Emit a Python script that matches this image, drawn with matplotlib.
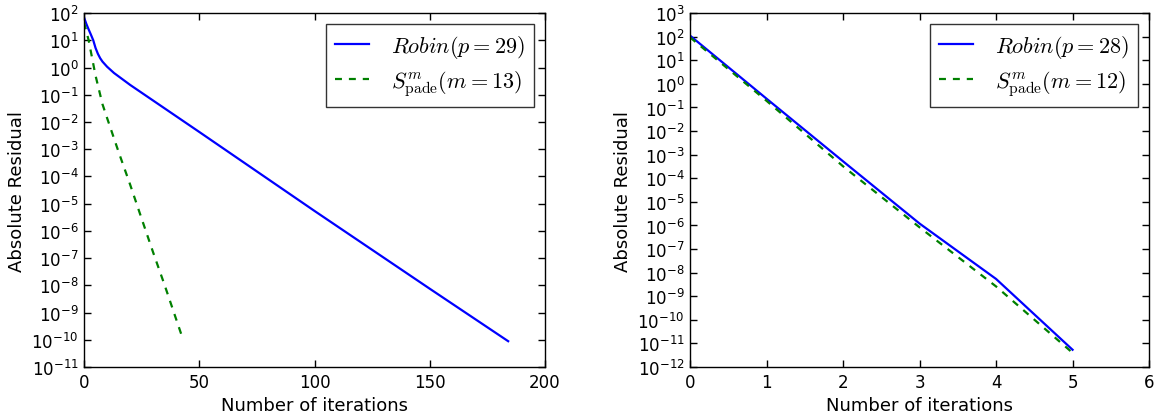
import numpy as np
import matplotlib
matplotlib.use("Agg")
import matplotlib.pyplot as plt

plt.rcParams['mathtext.fontset'] = 'cm'
plt.rcParams['axes.unicode_minus'] = False
plt.rcParams['lines.scale_dashes'] = False
plt.rcParams['xtick.direction'] = 'in'
plt.rcParams['ytick.direction'] = 'in'
plt.rcParams['xtick.top'] = True
plt.rcParams['ytick.right'] = True

# left panel: residual history
itRobinL = [0, 1, 2, 3, 4, 5, 6, 7, 8, 10, 13, 20, 50, 100, 150, 184]
resRobinL = [69, 40, 25, 16, 10, 5.2, 3.2, 2.2, 1.65, 1.07, 0.63, 0.23,
             4.3e-3, 5.4e-6, 7.5e-9, 8.9e-11]
itPadeL = [0, 2, 5, 8, 10, 15, 20, 25, 30, 35, 40, 43]
resPadeL = [45, 10, 0.5, 4.5e-2, 1.4e-2, 7.9e-4, 5.0e-5, 2.8e-6, 1.6e-7,
            1.0e-8, 5.6e-10, 1.0e-10]

# right panel
itR = [0, 1, 2, 3, 4, 5]
resRobinR = [110, 0.234, 5.2e-4, 1.2e-6, 5.4e-9, 5.4e-12]
resPadeR = [93, 0.19, 3.2e-4, 8.3e-7, 2.6e-9, 4.0e-12]

fig = plt.figure(figsize=(11.56, 4.14), dpi=100)
ax1 = fig.add_axes([0.0727, 0.111, 0.3988, 0.855])
ax2 = fig.add_axes([0.597, 0.111, 0.397, 0.855])

def style(ax):
    ax.tick_params(which='major', length=5, width=1, labelsize=12, pad=4)
    ax.tick_params(which='minor', length=0)
    for s in ax.spines.values():
        s.set_linewidth(1.0)
    ax.set_xlabel("Number of iterations", fontsize=13)
    ax.set_ylabel("Absolute Residual", fontsize=13)
    leg = ax.legend(loc='upper right', fontsize=16, fancybox=False,
                    handlelength=1.55, handletextpad=1.0, borderpad=0.4,
                    labelspacing=0.35, borderaxespad=0.5)
    leg.get_frame().set_edgecolor('black')
    leg.get_frame().set_linewidth(1.0)

ax1.semilogy(itRobinL, resRobinL, color='#0000ff', lw=1.6,
             label=r"$Robin(p=29)$")
ax1.semilogy(itPadeL, resPadeL, color='#008000', lw=1.6,
             linestyle=(0, (5, 5)), label=r"$S^m_{\rm pade}(m=13)$")
ax1.set_xlim(0, 200)
ax1.set_ylim(1e-11, 1e2)
ax1.set_xticks([0, 50, 100, 150, 200])
ax1.set_yticks([10.0**k for k in range(-11, 3)])
style(ax1)

ax2.semilogy(itR, resRobinR, color='#0000ff', lw=1.6,
             label=r"$Robin(p=28)$")
ax2.semilogy(itR, resPadeR, color='#008000', lw=1.6,
             linestyle=(0, (5, 5)), label=r"$S^m_{\rm pade}(m=12)$")
ax2.set_xlim(0, 6)
ax2.set_ylim(1e-12, 1e3)
ax2.set_xticks(range(7))
ax2.set_yticks([10.0**k for k in range(-12, 4)])
style(ax2)

plt.savefig("out.png", dpi=100)
